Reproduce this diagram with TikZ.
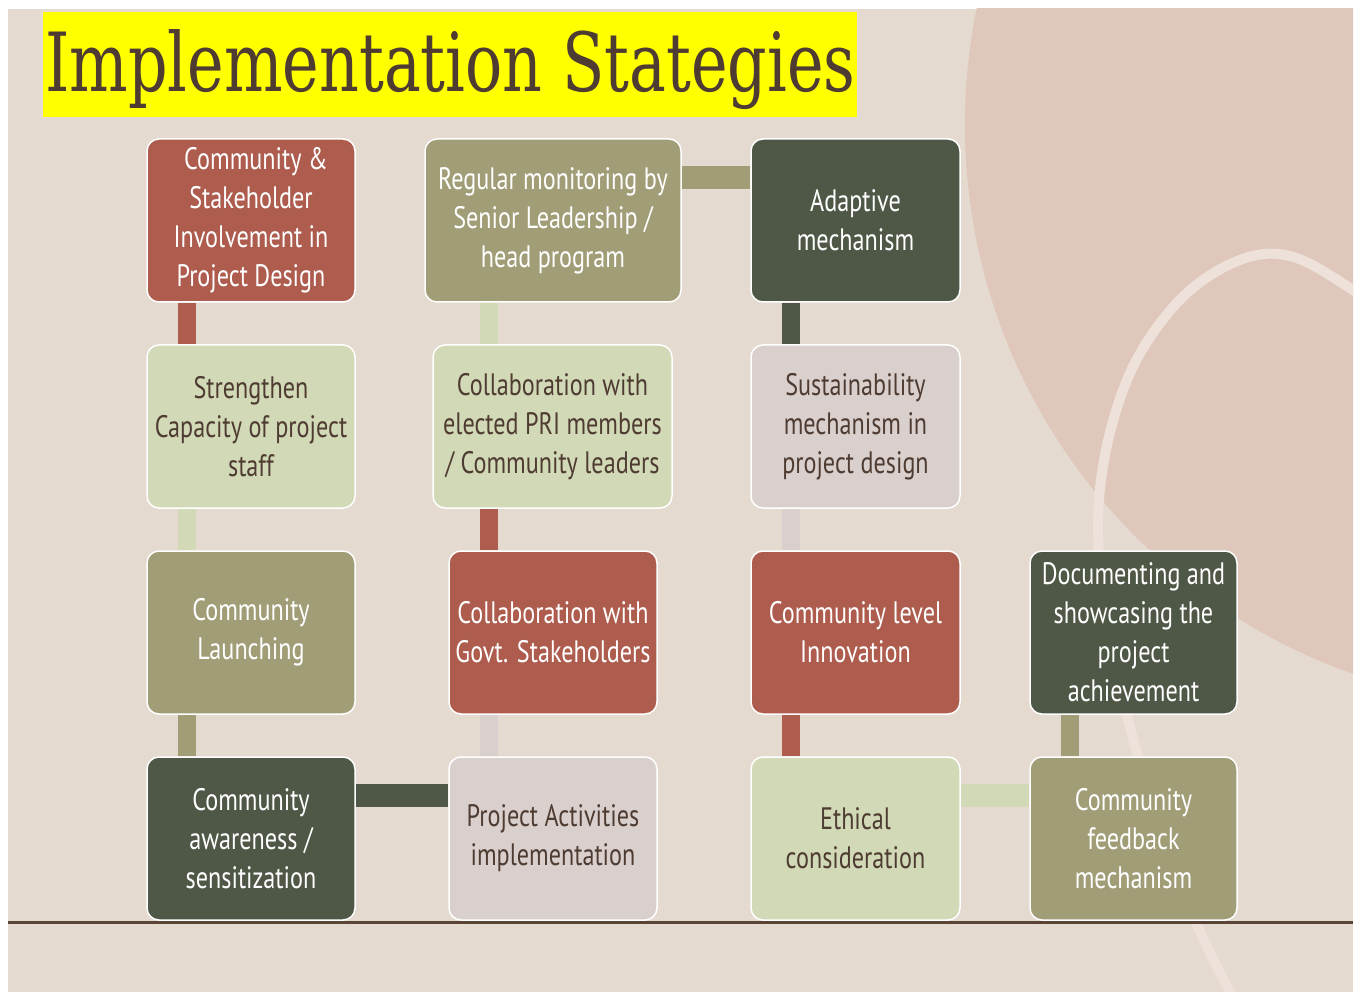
\documentclass[tikz,border=0pt]{standalone}
\usepackage{fontspec}
\setmainfont[FakeStretch=0.78]{PT Sans}
\newfontfamily\titlefont{DejaVu Serif}
\usetikzlibrary{calc}
\pgfdeclarelayer{bg}
\pgfsetlayers{bg,main}
\definecolor{slidebg}{HTML}{E4DAD0}
\definecolor{circ}{HTML}{DFC7BC}
\definecolor{ring}{HTML}{EDE1D9}
\definecolor{cred}{HTML}{AD5C4D}
\definecolor{clgreen}{HTML}{D2D9B6}
\definecolor{colive}{HTML}{A09D77}
\definecolor{cdkgreen}{HTML}{4F5846}
\definecolor{cgray}{HTML}{D9D0CD}
\definecolor{txt}{HTML}{4E3B31}
\definecolor{rule}{HTML}{5A4436}
\definecolor{ttlyellow}{HTML}{FFFF00}
\begin{document}
\begin{tikzpicture}[x=1pt,y=-1pt,
  box/.style={draw=white, line width=1.5pt, rounded corners=12pt,
    minimum height=163pt, align=center, inner sep=0pt,
    font=\fontsize{31}{39}\selectfont},
  wbox/.style={box, text=white},
  dbox/.style={box, text=txt},
  vbar/.style={line width=18pt},
  hbar/.style={line width=23pt}]
\useasboundingbox (0,0) rectangle (1358,992);
\begin{pgfonlayer}{bg}
  \fill[white] (0,0) rectangle (1358,992);
  \fill[slidebg] (8,9) rectangle (1353,992);
  \begin{scope}
    \clip (8,9) rectangle (1353,992);
    \fill[circ] (1547,125) circle[radius=582];
    \draw[ring, line width=10pt] plot[smooth, tension=0.6] coordinates {(1400,325) (1353,290) (1290,256) (1235,262) (1175,305) (1125,385) (1099,500) (1108,630) (1145,780) (1195,920) (1240,1010)};
  \end{scope}
  \draw[rule, line width=3pt] (8,922) -- (1353,922);
\end{pgfonlayer}

% title
\node[fill=ttlyellow, minimum width=814pt, minimum height=105pt, inner sep=0pt] (title) at (450,64.5) {};
\node[text=txt, inner sep=0pt, anchor=base west] (titletext) at (45,92)
  {\resizebox{810pt}{62pt}{\titlefont Implementation Stategies}};

% column 1
\node[wbox, fill=cred, minimum width=208pt] (A) at (251,220.5) {\hspace*{10pt}Community \&\\Stakeholder\\Involvement in\\Project Design};
\node[dbox, fill=clgreen, minimum width=208pt] (B) at (251,426.5) {Strengthen\\Capacity of project\\staff};
\node[wbox, fill=colive, minimum width=208pt] (C) at (251,632.5) {Community\\Launching};
\node[wbox, fill=cdkgreen, minimum width=208pt] (D) at (251,838.5) {Community\\awareness /\\sensitization};
% column 2
\node[dbox, fill=cgray, minimum width=208pt] (E) at (553,838.5) {Project Activities\\implementation};
\node[wbox, fill=cred, minimum width=208pt] (F) at (553,632.5) {Collaboration with\\Govt. Stakeholders};
\node[dbox, fill=clgreen, minimum width=239pt] (G) at (552.5,426.5) {Collaboration with\\elected PRI members\\/ Community leaders};
\node[wbox, fill=colive, minimum width=256pt] (H) at (553,220.5) {Regular monitoring by\\Senior Leadership /\\head program};
% column 3
\node[wbox, fill=cdkgreen, minimum width=209pt] (I) at (855.5,220.5) {Adaptive\\mechanism};
\node[dbox, fill=cgray, minimum width=209pt] (J) at (855.5,426.5) {Sustainability\\mechanism in\\project design};
\node[wbox, fill=cred, minimum width=209pt] (K) at (855.5,632.5) {Community level\\Innovation};
\node[dbox, fill=clgreen, minimum width=209pt] (L) at (855.5,838.5) {Ethical\\consideration};
% column 4
\node[wbox, fill=colive, minimum width=207pt] (M) at (1133.5,838.5) {Community\\feedback\\mechanism};
\node[wbox, fill=cdkgreen, minimum width=207pt] (N) at (1133.5,632.5) {Documenting and\\showcasing the\\project\\achievement};

% connector guide coordinates
\coordinate (c1) at ($(A.south west)+(41,0)$);
\coordinate (c2) at ($(E.north west)+(41,0)$);
\coordinate (c3) at ($(I.south west)+(41,0)$);
\coordinate (c4) at ($(M.north west)+(41,0)$);
\coordinate (r1) at ($(H.north)+(0,39)$);
\coordinate (r4) at ($(D.north)+(0,39)$);

\begin{pgfonlayer}{bg}
  \draw[vbar, cred]     (c1 |- A.south) -- (c1 |- B.north);
  \draw[vbar, clgreen]  (c1 |- B.south) -- (c1 |- C.north);
  \draw[vbar, colive]   (c1 |- C.south) -- (c1 |- D.north);
  \draw[hbar, cdkgreen] (r4 -| D.east) -- (r4 -| E.west);
  \draw[vbar, cgray]    (c2 |- E.north) -- (c2 |- F.south);
  \draw[vbar, cred]     (c2 |- F.north) -- (c2 |- G.south);
  \draw[vbar, clgreen]  (c2 |- G.north) -- (c2 |- H.south);
  \draw[hbar, colive]   (r1 -| H.east) -- (r1 -| I.west);
  \draw[vbar, cdkgreen] (c3 |- I.south) -- (c3 |- J.north);
  \draw[vbar, cgray]    (c3 |- J.south) -- (c3 |- K.north);
  \draw[vbar, cred]     (c3 |- K.south) -- (c3 |- L.north);
  \draw[hbar, clgreen]  (r4 -| L.east) -- (r4 -| M.west);
  \draw[vbar, colive]   (c4 |- M.north) -- (c4 |- N.south);
\end{pgfonlayer}
\end{tikzpicture}
\end{document}
